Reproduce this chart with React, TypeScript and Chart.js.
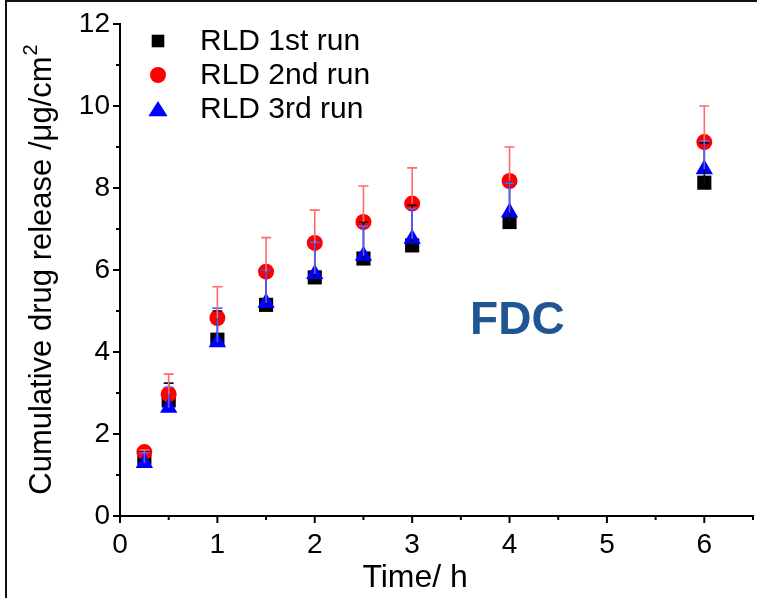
import React, { useEffect, useRef } from 'react';
import { Chart, registerables } from 'chart.js';
Chart.register(...registerables);

// ---- data ----
const timeH = [0.25, 0.5, 1, 1.5, 2, 2.5, 3, 4, 6];
const run1 = [1.42, 2.82, 4.3, 5.15, 5.82, 6.28, 6.6, 7.17, 8.13];
const run2 = [1.56, 2.97, 4.83, 5.96, 6.66, 7.17, 7.62, 8.17, 9.12];
const run3 = [1.29, 2.64, 4.24, 5.2, 5.9, 6.35, 6.76, 7.4, 8.46];
const err1 = [0.14, 0.42, 0.7, 0.85, 0.86, 0.89, 0.98, 0.95, 0.97];
const err2 = [0.05, 0.49, 0.76, 0.83, 0.8, 0.88, 0.87, 0.83, 0.88];
const err3 = [0.25, 0.5, 0.83, 0.8, 0.78, 0.72, 0.74, 0.72, 0.69];
const seriesNames = ['RLD 1st run', 'RLD 2nd run', 'RLD 3rd run'];
const xMajorTicks = [0, 1, 2, 3, 4, 5, 6];
const yMajorTicks = [0, 2, 4, 6, 8, 10, 12];
const xTitle = 'Time/ h';
const yTitle = 'Cumulative drug release /μg/cm';
const yTitleSup = '2';
const annotationText = 'FDC';
const annotationPos = [4.08, 4.75];

const FONT = '"Liberation Sans", Arial, Helvetica, sans-serif';

const markerStyles = [
  { shape: 'rect', color: '#000000', errColor: '#111111' },
  { shape: 'circle', color: '#ff0000', errColor: '#ff6a6a' },
  { shape: 'triangle', color: '#0000ff', errColor: '#5c5cff' },
];

function drawMarker(ctx: CanvasRenderingContext2D, shape: string, x: number, y: number, s: number, color: string) {
  ctx.save();
  ctx.fillStyle = color;
  ctx.beginPath();
  if (shape === 'rect') {
    ctx.rect(x - s * 0.45, y - s * 0.45, s * 0.9, s * 0.9);
  } else if (shape === 'circle') {
    ctx.arc(x, y, s * 0.5, 0, Math.PI * 2);
  } else {
    ctx.moveTo(x, y - s * 0.5);
    ctx.lineTo(x + s * 0.6, y + s * 0.45);
    ctx.lineTo(x - s * 0.6, y + s * 0.45);
    ctx.closePath();
  }
  ctx.fill();
  ctx.restore();
}

function drawErrBars(chart: any, vals: number[], errs: number[], color: string) {
  const ctx: CanvasRenderingContext2D = chart.ctx;
  const xs = chart.scales.x;
  const ys = chart.scales.y;
  ctx.save();
  ctx.lineWidth = 1.6;
  ctx.strokeStyle = color;
  timeH.forEach((t, i) => {
    const px = xs.getPixelForValue(t);
    const y0 = ys.getPixelForValue(vals[i]);
    const y1 = ys.getPixelForValue(vals[i] + errs[i]);
    ctx.beginPath();
    ctx.moveTo(px, y0);
    ctx.lineTo(px, y1);
    ctx.moveTo(px - 5, y1);
    ctx.lineTo(px + 5, y1);
    ctx.stroke();
  });
  ctx.restore();
}

const customPlugin = {
  id: 'customDraw',
  afterDatasetsDraw(chart: any) {
    drawErrBars(chart, run1, err1, markerStyles[0].errColor);
    drawErrBars(chart, run3, err3, markerStyles[2].errColor);
    drawErrBars(chart, run2, err2, markerStyles[1].errColor);
  },
  afterDraw(chart: any) {
    const ctx: CanvasRenderingContext2D = chart.ctx;
    const xs = chart.scales.x;
    const ys = chart.scales.y;
    const area = chart.chartArea;
    ctx.save();
    // ticks
    ctx.strokeStyle = '#000';
    ctx.lineWidth = 2;
    xs.ticks.forEach((tk: any) => {
      const px = xs.getPixelForValue(tk.value);
      const major = xMajorTicks.includes(tk.value);
      ctx.beginPath();
      ctx.moveTo(px, area.bottom);
      ctx.lineTo(px, area.bottom + (major ? 7 : 4));
      ctx.stroke();
    });
    ys.ticks.forEach((tk: any) => {
      const py = ys.getPixelForValue(tk.value);
      const major = yMajorTicks.includes(tk.value);
      ctx.beginPath();
      ctx.moveTo(area.left, py);
      ctx.lineTo(area.left - (major ? 7 : 4), py);
      ctx.stroke();
    });
    // axis titles
    ctx.fillStyle = '#000';
    ctx.font = `32px ${FONT}`;
    ctx.textAlign = 'center';
    ctx.textBaseline = 'middle';
    const xMid = (xs.getPixelForValue(xMajorTicks[0]) + xs.getPixelForValue(xMajorTicks[xMajorTicks.length - 1])) / 2;
    ctx.fillText(xTitle, xMid + 3, area.bottom + 62);
    ctx.save();
    ctx.translate(42, (area.top + area.bottom) / 2);
    ctx.rotate(-Math.PI / 2);
    ctx.font = `31px ${FONT}`;
    const mainW = ctx.measureText(yTitle).width;
    ctx.font = `20px ${FONT}`;
    const supW = ctx.measureText(yTitleSup).width;
    const total = mainW + supW;
    ctx.textAlign = 'left';
    ctx.font = `31px ${FONT}`;
    ctx.fillText(yTitle, -total / 2, 0);
    ctx.font = `20px ${FONT}`;
    ctx.fillText(yTitleSup, -total / 2 + mainW + 1, -11);
    ctx.restore();
    // legend
    const lx = area.left + 38;
    seriesNames.forEach((name, i) => {
      const ly = area.top + 17 + i * 34;
      const ms = markerStyles[i];
      drawMarker(ctx, ms.shape, lx, ly, ms.shape === 'rect' ? 14 : 16, ms.color);
      ctx.fillStyle = '#000';
      ctx.font = `30px ${FONT}`;
      ctx.textAlign = 'left';
      ctx.textBaseline = 'middle';
      ctx.fillText(name, area.left + 80, ly + 1);
    });
    // annotation
    ctx.fillStyle = '#1f5591';
    ctx.font = `bold 46px ${FONT}`;
    ctx.textAlign = 'center';
    ctx.textBaseline = 'middle';
    ctx.fillText(annotationText, xs.getPixelForValue(annotationPos[0]), ys.getPixelForValue(annotationPos[1]));
    ctx.restore();
  },
};

export default function App() {
  const canvasRef = useRef<HTMLCanvasElement | null>(null);
  useEffect(() => {
    const canvas = canvasRef.current;
    if (!canvas) return;
    const chart = new Chart(canvas, {
      type: 'scatter',
      data: {
        datasets: [
          {
            label: seriesNames[0],
            data: timeH.map((t, i) => ({ x: t, y: run1[i] })),
            pointStyle: 'rect',
            pointRadius: 10,
            backgroundColor: '#000000',
            borderColor: '#000000',
            borderWidth: 0,
            order: 3,
          },
          {
            label: seriesNames[1],
            data: timeH.map((t, i) => ({ x: t, y: run2[i] })),
            pointStyle: 'circle',
            pointRadius: 8,
            backgroundColor: '#ff0000',
            borderColor: '#ff0000',
            borderWidth: 0,
            order: 2,
          },
          {
            label: seriesNames[2],
            data: timeH.map((t, i) => ({ x: t, y: run3[i] })),
            pointStyle: 'triangle',
            pointRadius: 10,
            backgroundColor: '#0000ff',
            borderColor: '#0000ff',
            borderWidth: 0,
            order: 1,
          },
        ],
      },
      options: {
        responsive: false,
        animation: false,
        layout: { autoPadding: false, padding: { top: 24, right: 4, left: 0, bottom: 0 } },
        plugins: { legend: { display: false }, tooltip: { enabled: false } },
        scales: {
          x: {
            type: 'linear',
            min: 0,
            max: 6.5,
            grid: { display: false, drawTicks: false },
            border: { display: true, color: '#000', width: 2 },
            ticks: {
              stepSize: 0.5,
              padding: 12,
              color: '#000',
              font: { family: FONT, size: 28 },
              maxRotation: 0,
              autoSkip: false,
              callback: (v: any) => (xMajorTicks.includes(Number(v)) ? String(v) : ''),
            },
            afterFit: (s: any) => { s.height = 82; s.paddingLeft = 0; s.paddingRight = 0; },
          },
          y: {
            type: 'linear',
            min: 0,
            max: 12,
            grid: { display: false, drawTicks: false },
            border: { display: true, color: '#000', width: 2 },
            ticks: {
              stepSize: 1,
              padding: 10,
              color: '#000',
              font: { family: FONT, size: 28 },
              autoSkip: false,
              callback: (v: any) => (yMajorTicks.includes(Number(v)) ? String(v) : ''),
            },
            afterFit: (s: any) => { s.width = 120; s.paddingTop = 0; s.paddingBottom = 0; },
          },
        },
      },
      plugins: [customPlugin],
    } as any);
    return () => chart.destroy();
  }, []);
  return (
    <div style={{ position: 'fixed', left: 0, top: 0, width: 757, height: 598, background: '#fff', overflow: 'hidden' }}>
      <canvas ref={canvasRef} width={757} height={598} style={{ width: 757, height: 598, display: 'block' }} />
      <div style={{ position: 'absolute', left: 5, top: 0, width: 760, height: 610, borderLeft: '2px solid #111', borderTop: '2px solid #111', pointerEvents: 'none' }} />
    </div>
  );
}
